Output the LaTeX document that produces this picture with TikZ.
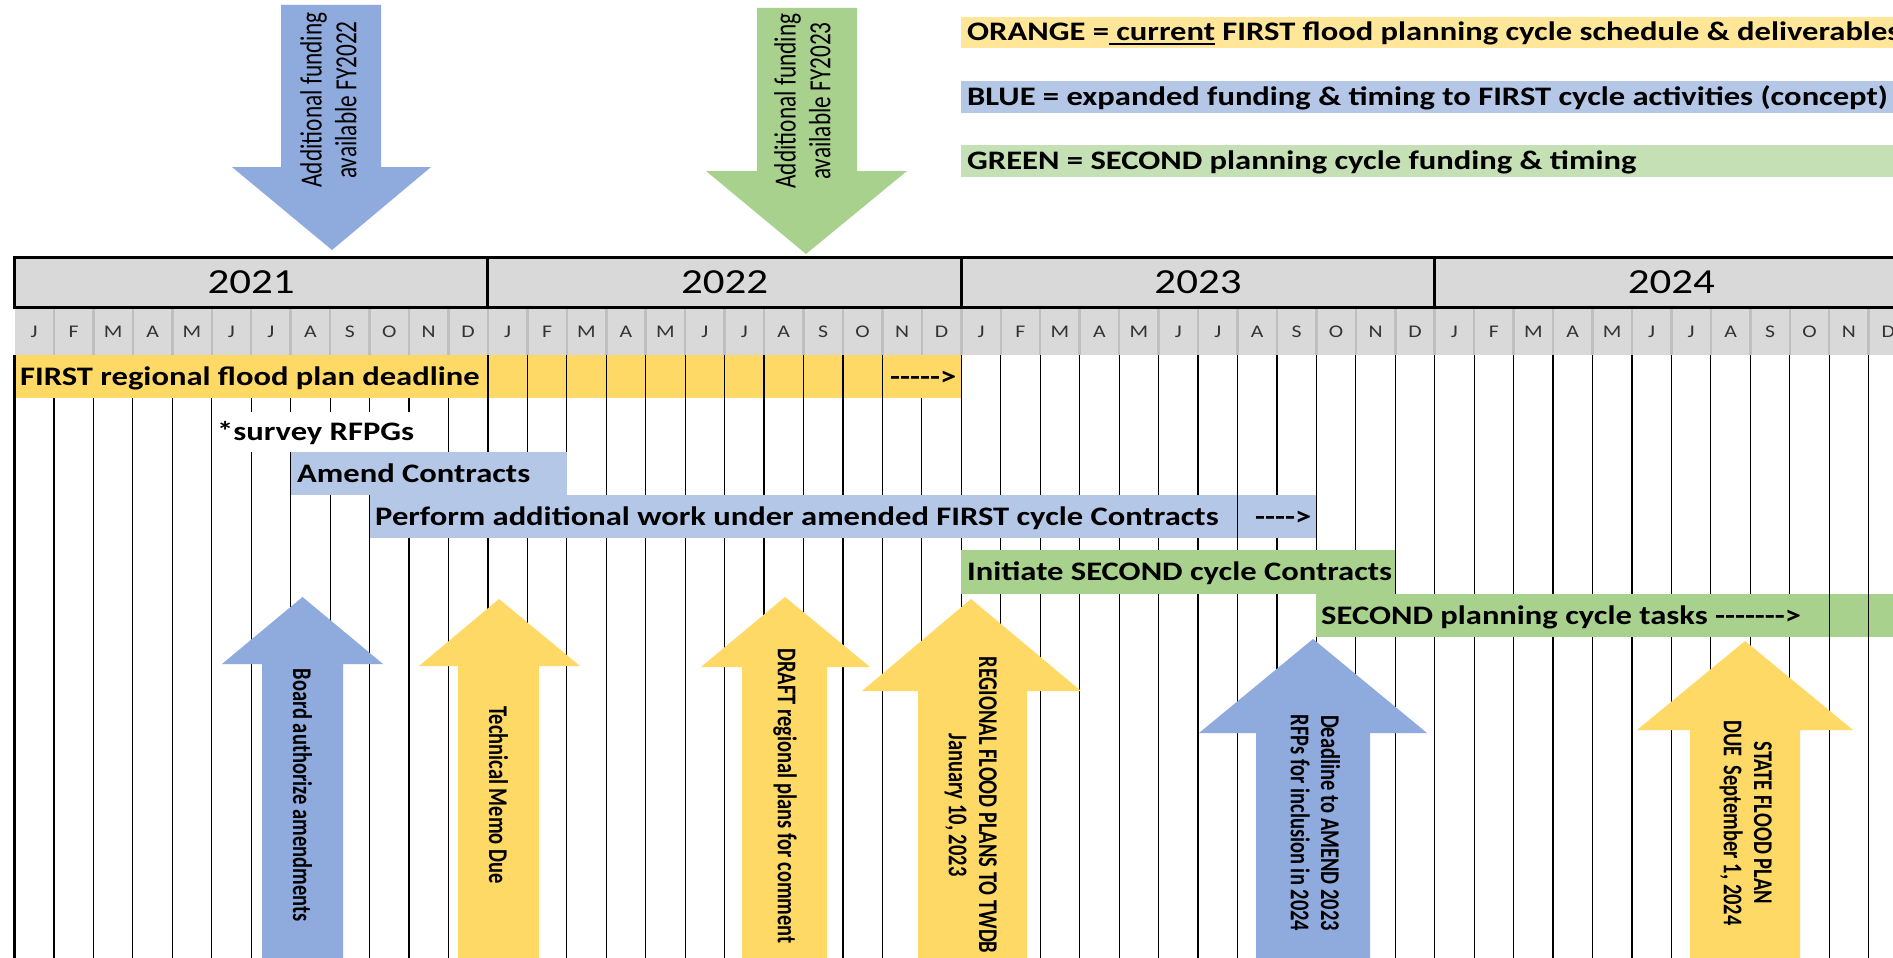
\documentclass[tikz,border=0pt]{standalone}
\usepackage{fontspec}
\usepackage{graphicx}
\setmainfont{Carlito}[FakeStretch=1.22]
\newfontfamily\plainfont{Carlito}
\definecolor{legorange}{HTML}{FFE699}
\definecolor{legblue}{HTML}{B4C7E7}
\definecolor{leggreen}{HTML}{C5E0B4}
\definecolor{yelbar}{HTML}{FFD966}
\definecolor{bluebar}{HTML}{B4C7E7}
\definecolor{bluearr}{HTML}{8FAADC}
\definecolor{greenbar}{HTML}{A9D18E}
\definecolor{hdrgray}{HTML}{D9D9D9}
\definecolor{mongray}{HTML}{BFBFBF}
\definecolor{montxt}{HTML}{333333}
\newcommand\myul[1]{\setbox0=\hbox{#1}\rlap{\rule[-4pt]{\wd0}{2.4pt}}\box0\relax}
\newcommand\vsq[1]{\scalebox{1}[1.32]{#1}}
\newcommand\dsh{-\kern0pt}
\begin{document}
\begin{tikzpicture}[x=1pt,y=-1pt,
  bartext/.style={anchor=base west, inner sep=0pt, font=\fontsize{26.7}{30}\selectfont\bfseries},
  montext/.style={anchor=base, inner sep=0pt, text=montxt, font=\fontsize{17.8}{19}\selectfont},
  yrtext/.style={anchor=base, inner sep=0pt, font=\fontsize{35.2}{40}\selectfont},
  uptext/.style={rotate=-90, inner sep=0pt, anchor=center, font=\plainfont\fontsize{20.5}{23}\selectfont\bfseries},
  dntext/.style={rotate=90, inner sep=0pt, anchor=center, font=\plainfont\fontsize{23.3}{26.5}\selectfont},
  gridline/.style={line width=1.2pt, black},
  thickline/.style={line width=3pt, black}]
\useasboundingbox (0,0) rectangle (1893,958);
\clip (0,0) rectangle (1893,958);
\fill[white] (0,0) rectangle (1893,958);

% legend
\fill[legorange] (961.3,17) rectangle (1900,48);
\fill[legblue] (961.3,81) rectangle (1900,113);
\fill[leggreen] (961.3,145) rectangle (1900,177);
\node[bartext] (legO) at (967,41) {ORANGE =\myul{ current} FIRST flood planning cycle schedule \& deliverables};
\node[bartext] (legB) at (967,105.5) {BLUE = expanded funding \& timing to FIRST cycle activities (concept)};
\node[bartext] (legG) at (967,169.5) {GREEN = SECOND planning cycle funding \& timing};

% header
\fill[hdrgray] (14.5,257) rectangle (1912,355);
\foreach \i in {1,...,47} \draw[mongray, line width=2.5pt] ({14.5+39.45*\i},307) -- ({14.5+39.45*\i},355);
\draw[thickline] (13,257) -- (1912,257);
\draw[thickline] (13,307) -- (1912,307);
\foreach \i in {0,12,24,36} \draw[thickline] ({14.5+39.45*\i},257) -- ({14.5+39.45*\i},307);
\foreach \yr [count=\k from 0] in {2021,2022,2023,2024}
  \node[yrtext] (yr\k) at ({14.5+473.4*\k+236.7},293) {\yr};
\foreach \k in {0,...,3}
  \foreach \m [count=\j from 0] in {J,F,M,A,M,J,J,A,S,O,N,D}
    \node[montext] (mon\k-\j) at ({14.5+473.4*\k+39.45*\j+19.7},337) {\m};

% body grid lines
\foreach \i in {1,...,47} \draw[gridline] ({14.5+39.45*\i},355) -- ({14.5+39.45*\i},962);
\draw[line width=2.6pt] (14.5,355) -- (14.5,962);

% bars
\fill[yelbar] (14.5,355) rectangle (961.3,398);
\fill[white] (213,412) rectangle (414,452);
\fill[bluebar] (290.65,452) rectangle (566.8,495);
\fill[bluebar] (369.55,495) rectangle (1316.35,538);
\fill[greenbar] (961.3,550) rectangle (1395.25,594);
\fill[greenbar] (1316.35,594) rectangle (1900,637);
\draw[line width=2.6pt] (14.5,355) -- (14.5,398);
\foreach \i in {12,...,22} \draw[gridline] ({14.5+39.45*\i},355) -- ({14.5+39.45*\i},398);
\draw[gridline] ({14.5+39.45*31},495) -- ({14.5+39.45*31},538);
\foreach \i in {46,47} \draw[gridline] ({14.5+39.45*\i},594) -- ({14.5+39.45*\i},637);

\node[bartext] (first) at (20,385) {FIRST regional flood plan deadline};
\node[bartext] (firstarr) at (890,385) {\dsh\dsh\dsh\dsh\dsh>};
\node[bartext] (survey) at (217,440.5) {*survey RFPGs};
\node[bartext] (amend) at (297,482) {Amend Contracts};
\node[bartext] (perform) at (375,525) {Perform additional work under amended FIRST cycle Contracts};
\node[bartext] (perfarr) at (1255,525) {\dsh\dsh\dsh\dsh>};
\node[bartext] (initiate) at (967,580.5) {Initiate SECOND cycle Contracts};
\node[bartext] (tasks) at (1321,624) {SECOND planning cycle tasks \dsh\dsh\dsh\dsh\dsh\dsh\dsh>};

% down arrows
\fill[bluearr] (332,250) -- (431,167) -- (381,167) -- (381,5) -- (281,5) -- (281,167) -- (232,167) -- cycle;
\node[dntext] (fund22) at (332,100) {\vsq{\begin{tabular}{@{}c@{}}Additional funding\\available FY2022\end{tabular}}};
\fill[greenbar] (806,254) -- (907,171) -- (857,171) -- (857,8) -- (757,8) -- (757,171) -- (706,171) -- cycle;
\node[dntext] (fund23) at (806,101) {\vsq{\begin{tabular}{@{}c@{}}Additional funding\\available FY2023\end{tabular}}};

% up arrows
\fill[bluearr] (302.5,597) -- (383,664) -- (343,664) -- (343,970) -- (262,970) -- (262,664) -- (222,664) -- cycle;
\node[uptext] (board) at (302.5,795) {\vsq{Board authorize amendments}};
\fill[yelbar] (499,599) -- (580,666) -- (539,666) -- (539,970) -- (458,970) -- (458,666) -- (419,666) -- cycle;
\node[uptext] (memo) at (498.5,795) {\vsq{Technical Memo Due}};
\fill[yelbar] (785,597) -- (870,667) -- (827,667) -- (827,970) -- (742,970) -- (742,667) -- (701,667) -- cycle;
\node[uptext] (draft) at (785,796) {\vsq{DRAFT regional plans for comment}};
\fill[yelbar] (971,599) -- (1081,691) -- (1027,691) -- (1027,970) -- (918,970) -- (918,691) -- (862,691) -- cycle;
\node[uptext] (regional) at (970,805) {\vsq{\begin{tabular}{@{}c@{}}REGIONAL FLOOD PLANS TO TWDB\\January 10, 2023\end{tabular}}};
\fill[bluearr] (1313,639) -- (1427,733) -- (1370,733) -- (1370,970) -- (1256,970) -- (1256,733) -- (1199,733) -- cycle;
\node[uptext] (deadline) at (1312,823) {\vsq{\begin{tabular}{@{}c@{}}Deadline to AMEND 2023\\RFPs for inclusion in 2024\end{tabular}}};
\fill[yelbar] (1745,641) -- (1853,730) -- (1800,730) -- (1800,970) -- (1690,970) -- (1690,730) -- (1637,730) -- cycle;
\node[uptext] (state) at (1745,823) {\vsq{\begin{tabular}{@{}c@{}}STATE FLOOD PLAN\\DUE\ \ September 1, 2024\end{tabular}}};
\end{tikzpicture}
\end{document}
